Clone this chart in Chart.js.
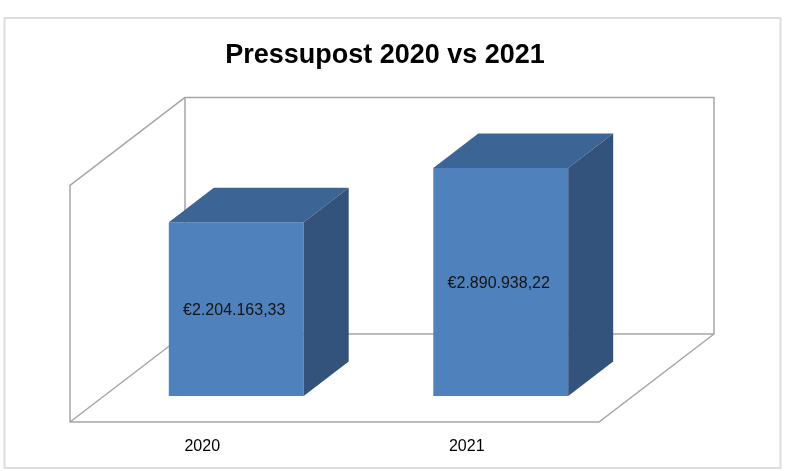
<!DOCTYPE html>
<html>
<head>
<meta charset="utf-8">
<script src="https://cdn.jsdelivr.net/npm/chart.js@4.4.1/dist/chart.umd.min.js"></script>
<style>
  html, body { margin: 0; padding: 0; background: #fff; }
  #wrap { position: relative; width: 800px; height: 471px; }
</style>
</head>
<body>
<div id="wrap"><canvas id="c"></canvas></div>
<script>
const titleText = 'Pressupost 2020 vs 2021';
const categories = ['2020', '2021'];
const budgetValues = [2204163.33, 2890938.22];
const yMin = 0;
const yMax = 3000000;

function formatEuro(v) {
  const parts = v.toFixed(2).split('.');
  return '€' + parts[0].replace(/\B(?=(\d{3})+(?!\d))/g, '.') + ',' + parts[1];
}

// 3D projection offsets relative to the bars' front plane
const FRONT = { dx: -34, dy: 26 };   // floor front edge
const BACK = { dx: 81, dy: -62 };    // back wall plane
const BAR_DEPTH = { dx: 45, dy: -34.5 };

const colors = {
  front: '#4F81BD',
  top: '#3C6494',
  side: '#33537D',
  wall: '#A6A6A6',
  border: '#DDDDDD'
};

const frame3d = {
  id: 'frame3d',
  beforeDraw(chart) {
    const ctx = chart.ctx;
    ctx.save();
    ctx.fillStyle = '#ffffff';
    ctx.fillRect(0, 0, chart.width, chart.height);
    ctx.strokeStyle = colors.border;
    ctx.lineWidth = 2;
    ctx.strokeRect(4.5, 18, 776, 450);
    ctx.restore();
  },
  beforeDatasetsDraw(chart) {
    const ctx = chart.ctx;
    const a = chart.chartArea;
    const L = a.left, R = a.right, T = a.top, B = a.bottom;
    ctx.save();
    ctx.strokeStyle = colors.wall;
    ctx.lineWidth = 1.5;
    ctx.beginPath();
    // back wall
    ctx.moveTo(L + BACK.dx, B + BACK.dy);
    ctx.lineTo(L + BACK.dx, T + BACK.dy);
    ctx.lineTo(R + BACK.dx, T + BACK.dy);
    ctx.lineTo(R + BACK.dx, B + BACK.dy);
    ctx.lineTo(L + BACK.dx, B + BACK.dy);
    // left wall
    ctx.moveTo(L + BACK.dx, T + BACK.dy);
    ctx.lineTo(L + FRONT.dx, T + FRONT.dy);
    ctx.lineTo(L + FRONT.dx, B + FRONT.dy);
    // floor
    ctx.lineTo(R + FRONT.dx, B + FRONT.dy);
    ctx.lineTo(R + BACK.dx, B + BACK.dy);
    ctx.moveTo(L + FRONT.dx, B + FRONT.dy);
    ctx.lineTo(L + BACK.dx, B + BACK.dy);
    ctx.stroke();
    ctx.restore();
  },
  afterDatasetsDraw(chart) {
    const ctx = chart.ctx;
    const meta = chart.getDatasetMeta(0);
    const values = chart.data.datasets[0].data;
    ctx.save();
    meta.data.forEach((bar, i) => {
      const p = bar.getProps(['x', 'y', 'base', 'width'], true);
      const l = p.x - p.width / 2, r = p.x + p.width / 2;
      const dx = BAR_DEPTH.dx, dy = BAR_DEPTH.dy;
      // top face
      ctx.fillStyle = colors.top;
      ctx.beginPath();
      ctx.moveTo(l, p.y);
      ctx.lineTo(r, p.y);
      ctx.lineTo(r + dx, p.y + dy);
      ctx.lineTo(l + dx, p.y + dy);
      ctx.closePath();
      ctx.fill();
      // side face
      ctx.fillStyle = colors.side;
      ctx.beginPath();
      ctx.moveTo(r, p.y);
      ctx.lineTo(r + dx, p.y + dy);
      ctx.lineTo(r + dx, p.base + dy);
      ctx.lineTo(r, p.base);
      ctx.closePath();
      ctx.fill();
      // value label
      ctx.fillStyle = '#141414';
      ctx.font = '16px "Liberation Sans", Arial, sans-serif';
      ctx.textAlign = 'center';
      ctx.textBaseline = 'middle';
      ctx.fillText(formatEuro(values[i]), p.x - 2, (p.y + p.base) / 2 + 2);
    });
    ctx.restore();
  }
};

const hiddenAxis = {
  grid: { display: false, drawTicks: false },
  border: { display: false },
  ticks: { display: false }
};

new Chart(document.getElementById('c'), {
  type: 'bar',
  data: {
    labels: categories,
    datasets: [{
      label: 'Pressupost',
      data: budgetValues,
      backgroundColor: colors.front,
      borderWidth: 0,
      categoryPercentage: 1.0,
      barPercentage: 0.51,
      yAxisID: 'y'
    }]
  },
  options: {
    responsive: true,
    maintainAspectRatio: false,
    animation: false,
    events: [],
    layout: { padding: { left: 0, right: 30, top: 0, bottom: 14 } },
    plugins: {
      legend: { display: false },
      tooltip: { enabled: false },
      title: {
        display: true,
        text: titleText,
        color: '#000000',
        font: { family: '"Liberation Sans", Arial, sans-serif', size: 27, weight: 'bold', lineHeight: 1.2 },
        padding: { top: 39, bottom: 88 }
      }
    },
    scales: {
      x: {
        type: 'category',
        offset: true,
        grid: { display: false, drawTicks: false },
        border: { display: false },
        ticks: {
          color: '#000000',
          font: { family: '"Liberation Sans", Arial, sans-serif', size: 16, lineHeight: 1.2 },
          padding: 41,
          labelOffset: FRONT.dx,
          maxRotation: 0,
          autoSkip: false
        },
        afterFit(scale) { scale.height = 61; }
      },
      y: Object.assign({}, hiddenAxis, {
        position: 'left',
        min: yMin,
        max: yMax,
        afterFit(scale) { scale.width = 104; }
      }),
      y2: Object.assign({}, hiddenAxis, {
        position: 'right',
        min: yMin,
        max: yMax,
        afterFit(scale) { scale.width = 137; }
      })
    }
  },
  plugins: [frame3d]
});
</script>
</body>
</html>
